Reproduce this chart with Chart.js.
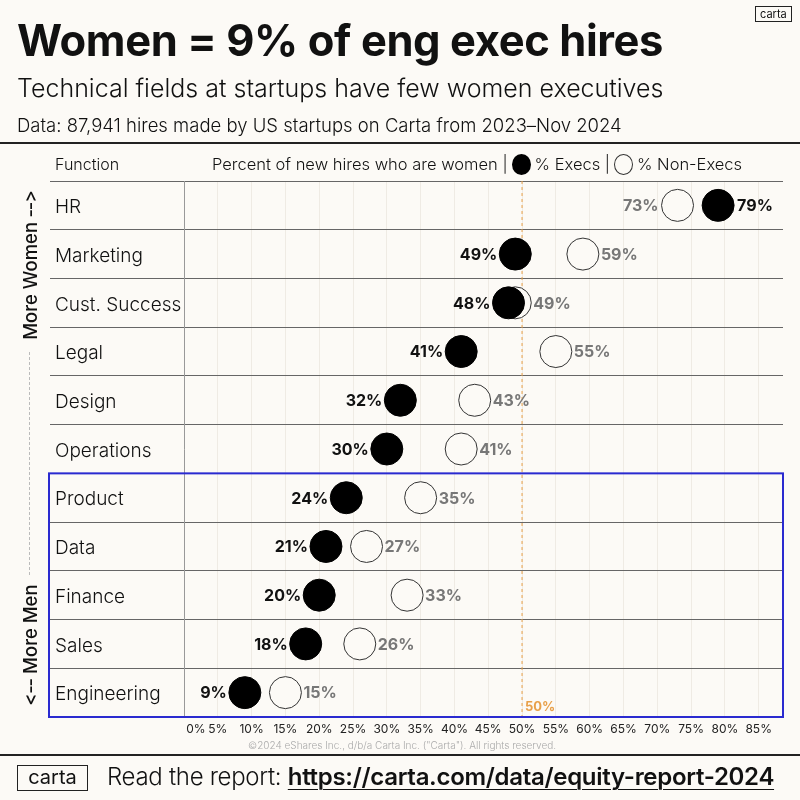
<!DOCTYPE html>
<html>
<head>
<meta charset="utf-8">
<script src="https://cdn.jsdelivr.net/npm/chart.js@4"></script>
<style>
  html, body { margin:0; padding:0; background:#fcfaf6; }
  body { width:800px; height:800px; position:relative; overflow:hidden; font-family:Inter, "Noto Sans", sans-serif; color:#111; font-variant-ligatures:none; font-feature-settings:"calt" 0, "liga" 0; }
  #wrap { position:absolute; left:0; top:0; width:800px; height:800px; }
  .abs { position:absolute; white-space:nowrap; }
  .rule { position:absolute; left:0; width:800px; height:2px; background:#222; }
  .dot { display:inline-block; width:19px; height:21px; border-radius:50%; vertical-align:-5px; margin:0 4px 0 4px; box-sizing:border-box; }
</style>
</head>
<body>
<div id="wrap"><canvas id="c" width="800" height="800"></canvas></div>

<div class="abs" style="left:755px;top:6px;border:1.5px solid #222;font-size:11px;line-height:14px;padding:0 4px;">carta</div>
<div class="abs" style="left:17px;top:14px;font-size:43.5px;font-weight:700;letter-spacing:-0.4px;line-height:52px;">Women = 9% of eng exec hires</div>
<div class="abs" style="left:17px;top:72px;font-size:25px;font-weight:300;letter-spacing:0px;line-height:32px;">Technical fields at startups have few women executives</div>
<div class="abs" style="left:17px;top:113px;font-size:18.5px;font-weight:300;letter-spacing:0px;line-height:24px;">Data: 87,941 hires made by US startups on Carta from 2023–Nov 2024</div>
<div class="rule" style="top:142px;"></div>

<div class="abs" style="left:55px;top:153px;font-size:16px;font-weight:300;line-height:22px;">Function</div>
<div class="abs" style="left:212px;top:153px;font-size:16.5px;font-weight:300;line-height:22px;letter-spacing:0px;">Percent of new hires who are women |<span class="dot" style="background:#000;"></span>% Execs |<span class="dot" style="border:1px solid #333;"></span>% Non-Execs</div>

<div class="abs" style="left:-70px;top:254px;width:200px;height:22px;line-height:22px;text-align:center;font-size:18.5px;font-weight:500;transform:rotate(-90deg);">More Women ‑‑&gt;</div>
<div class="abs" style="left:29px;top:352px;width:0;height:223px;border-left:1px dashed #bbb;"></div>
<div class="abs" style="left:-70px;top:634px;width:200px;height:22px;line-height:22px;text-align:center;font-size:18.5px;font-weight:500;transform:rotate(-90deg);">&lt;‑‑ More Men</div>

<div class="abs" style="left:248px;top:739px;font-size:10px;font-weight:300;color:#aaa;line-height:12px;">©2024 eShares Inc., d/b/a Carta Inc. ("Carta"). All rights reserved.</div>
<div class="rule" style="top:754px;"></div>

<div class="abs" style="left:17px;top:765px;width:69px;height:24px;border:1.5px solid #222;font-size:20px;line-height:23px;text-align:center;">carta</div>
<div class="abs" style="left:107px;top:762px;font-size:24px;font-weight:300;line-height:30px;letter-spacing:-0.3px;">Read the report: <span style="font-weight:600;text-decoration:underline;text-decoration-thickness:1px;text-underline-offset:4px;">https://carta.com/data/equity-report-2024</span></div>

<script>
const functions = ['HR', 'Marketing', 'Cust. Success', 'Legal', 'Design', 'Operations', 'Product', 'Data', 'Finance', 'Sales', 'Engineering'];
const execPct = [79, 49, 48, 41, 32, 30, 24, 21, 20, 18, 9];
const nonExecPct = [73, 59, 49, 55, 43, 41, 35, 27, 33, 26, 15];
const xTickLabels = ['0%', '5%', '10%', '15%', '20%', '25%', '30%', '35%', '40%', '45%', '50%', '55%', '60%', '65%', '70%', '75%', '80%', '85%'];

const BG = '#fcfaf6';
const R = 16;

const overlay = {
  id: 'overlay',
  beforeDatasetsDraw(chart) {
    const { ctx, chartArea, scales } = chart;
    const x50 = scales.x.getPixelForValue(50);
    ctx.save();
    ctx.strokeStyle = '#e8a04a';
    ctx.lineWidth = 1;
    ctx.setLineDash([3, 3]);
    ctx.beginPath();
    ctx.moveTo(x50, chartArea.top);
    ctx.lineTo(x50, chartArea.bottom);
    ctx.stroke();
    ctx.setLineDash([]);
    ctx.fillStyle = '#e8a04a';
    ctx.font = '700 13px Inter';
    ctx.textAlign = 'left';
    ctx.textBaseline = 'middle';
    ctx.fillText('50%', x50 + 3, chartArea.bottom - 10);
    ctx.restore();
  },
  afterDatasetsDraw(chart) {
    const { ctx, chartArea, scales } = chart;
    const x = scales.x, y = scales.y;
    ctx.save();
    ctx.font = '700 16px Inter';
    ctx.textBaseline = 'middle';
    functions.forEach((f, i) => {
      const yp = y.getPixelForValue(i);
      const ep = x.getPixelForValue(execPct[i]);
      const np = x.getPixelForValue(nonExecPct[i]);
      const left = execPct[i] <= nonExecPct[i];
      ctx.fillStyle = '#111';
      ctx.textAlign = left ? 'right' : 'left';
      ctx.fillText(execPct[i] + '%', left ? ep - R - 2 : ep + R + 3, yp + 1);
      ctx.fillStyle = '#777';
      ctx.textAlign = left ? 'left' : 'right';
      ctx.fillText(nonExecPct[i] + '%', left ? np + R + 2 : np - R - 3, yp + 1);
    });
    // blue box round the "more men" rows
    const rowH = (chartArea.bottom - chartArea.top) / functions.length;
    const top = y.getPixelForValue(functions.indexOf('Product')) - rowH / 2;
    ctx.strokeStyle = '#2a2ad0';
    ctx.lineWidth = 2;
    ctx.strokeRect(49, top, chartArea.right - 49, chartArea.bottom - top);
    ctx.restore();
  }
};

new Chart(document.getElementById('c'), {
  type: 'scatter',
  data: {
    datasets: [
      {
        label: '% Execs',
        data: functions.map((f, i) => ({ x: execPct[i], y: f })),
        pointRadius: R,
        pointHoverRadius: R,
        backgroundColor: '#000',
        borderColor: '#000',
        borderWidth: 1,
        order: 0
      },
      {
        label: '% Non-Execs',
        data: functions.map((f, i) => ({ x: nonExecPct[i], y: f })),
        pointRadius: R,
        pointHoverRadius: R,
        backgroundColor: BG,
        borderColor: '#333',
        borderWidth: 1,
        order: 1
      }
    ]
  },
  options: {
    responsive: false,
    animation: false,
    events: [],
    layout: { padding: { left: 55, top: 181, right: 17, bottom: 43 } },
    plugins: { legend: { display: false }, tooltip: { enabled: false } },
    scales: {
      x: {
        type: 'linear',
        min: 0,
        max: 88.6,
        afterFit: s => { s.height = 40; },
        border: { display: false },
        grid: { color: '#efebe4', lineWidth: 1, drawTicks: false },
        ticks: {
          stepSize: 5,
          includeBounds: false,
          autoSkip: false,
          maxRotation: 0,
          padding: 5,
          color: '#222',
          font: { family: 'Inter', size: 12 },
          callback: (v, i) => i === 0 ? '       ' + xTickLabels[0] : xTickLabels[i]
        }
      },
      y: {
        type: 'category',
        labels: functions,
        offset: true,
        afterFit: s => { s.width = 129; },
        border: { display: true, color: '#999', width: 1 },
        grid: { offset: true, color: '#666', lineWidth: 1, tickLength: 134, drawOnChartArea: true },
        ticks: {
          crossAlign: 'far',
          labelOffset: 2,
          color: '#111',
          font: { family: 'Inter', size: 19, weight: 300 }
        }
      }
    }
  },
  plugins: [overlay]
});
</script>
</body>
</html>
